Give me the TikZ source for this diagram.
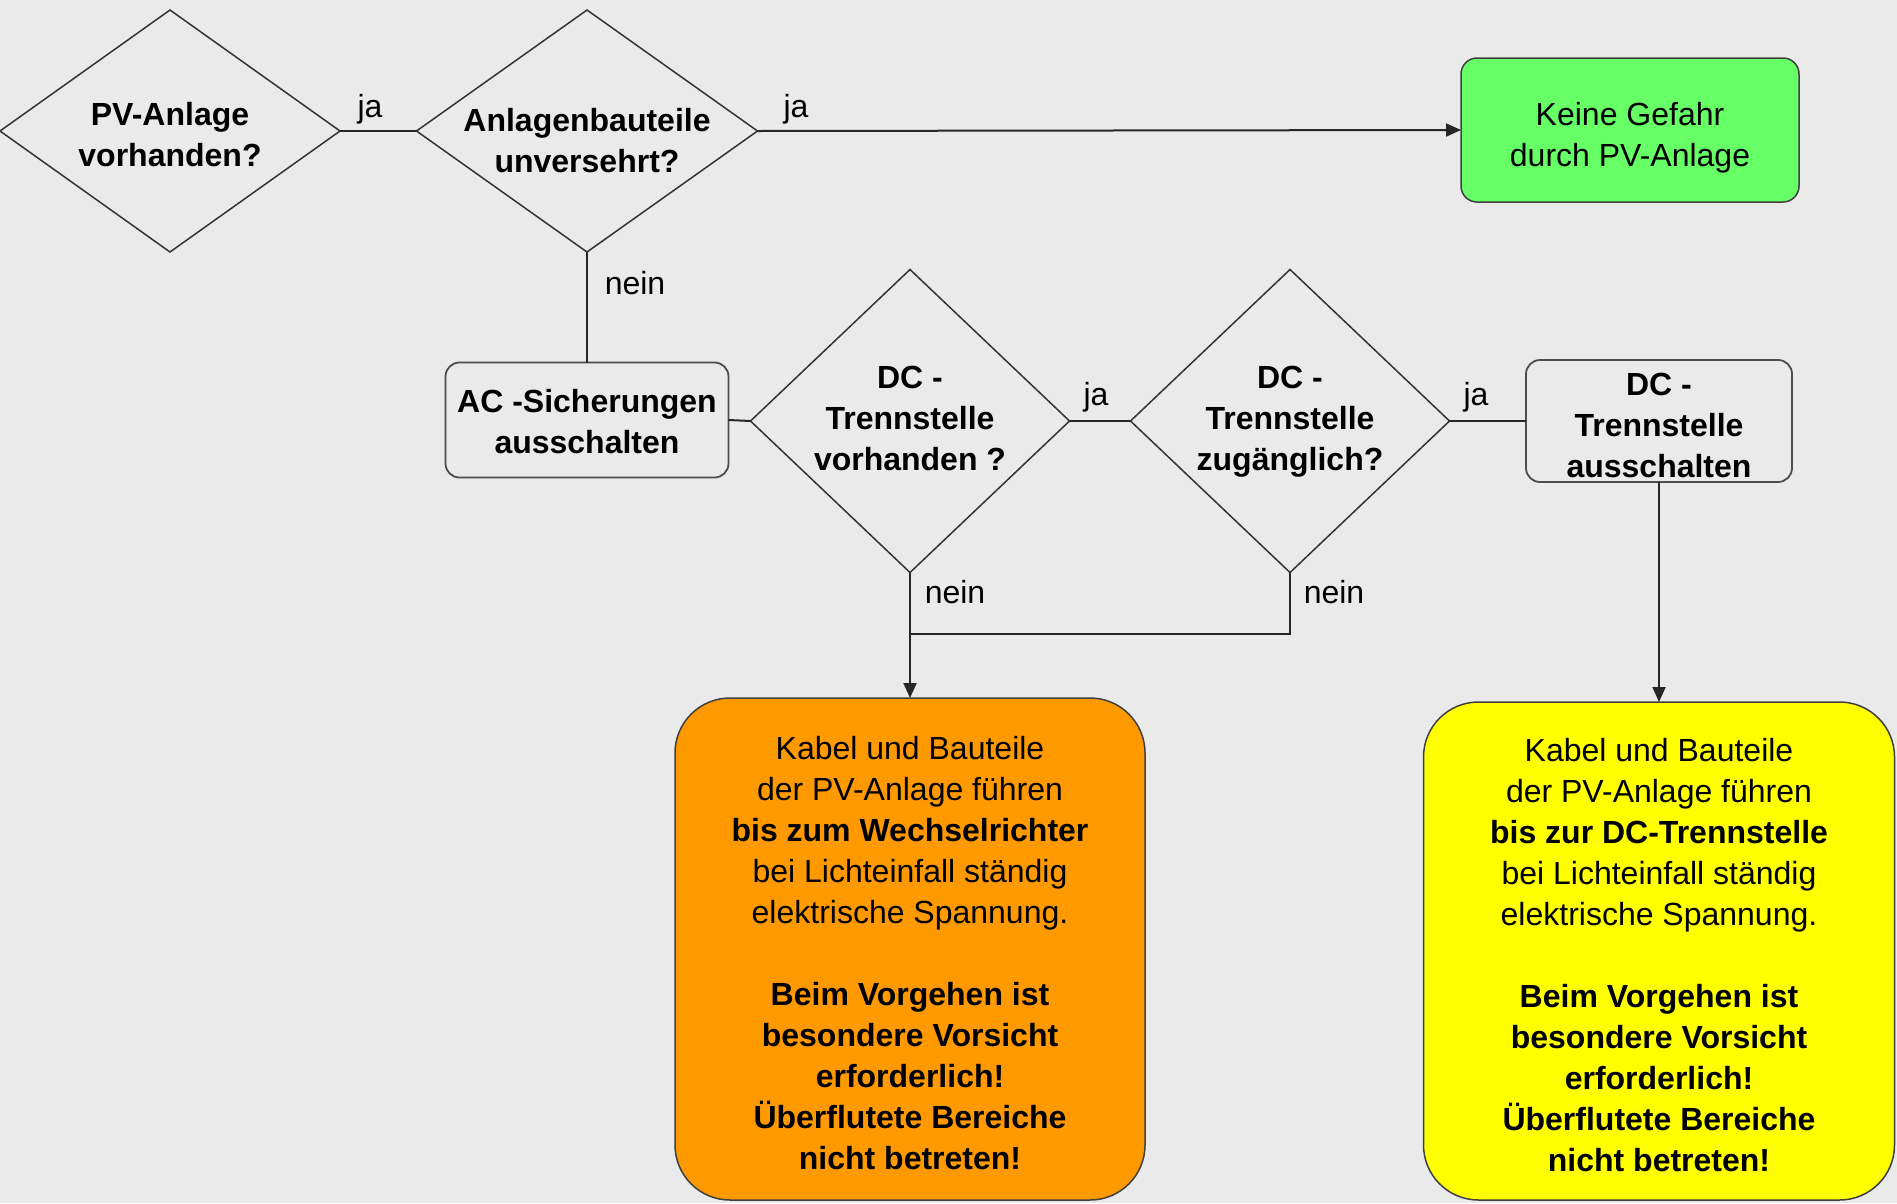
\documentclass[tikz,border=0pt]{standalone}
\usepackage{fontspec}
\setmainfont{Liberation Sans}
\usetikzlibrary{shapes.geometric,arrows.meta}
\definecolor{bg}{HTML}{EAEAEA}
\definecolor{okgreen}{HTML}{66FF66}
\definecolor{warnorange}{HTML}{FF9900}
\definecolor{warnyellow}{HTML}{FFFF00}
\definecolor{edgegray}{HTML}{333333}
\newcommand{\ztxt}[2][-12pt]{\smash{\raisebox{#1}{\makebox[0pt]{\begin{tabular}[c]{@{}c@{}}#2\end{tabular}}}}}
\begin{document}
\begin{tikzpicture}[x=1pt,y=-1pt,
  every node/.style={font=\fontsize{32}{41}\selectfont, outer sep=0pt},
  dia/.style={diamond, draw=edgegray, line width=1.5pt, inner sep=0pt, font=\fontsize{32}{41}\selectfont\bfseries},
  procbox/.style={rectangle, rounded corners=14pt, draw=black!70, line width=1.8pt, inner sep=0pt, font=\fontsize{32}{41}\selectfont\bfseries},
  endbox/.style={rectangle, draw=black!75, line width=1.5pt, inner sep=0pt},
  conn/.style={draw=black!85, line width=2pt},
  arr/.style={conn, -{Triangle[length=15pt,width=13pt]}},
  lbl/.style={inner sep=0pt}
]
\useasboundingbox (0,0) rectangle (1897,1203);
\fill[bg] (0,0) rectangle (1897,1203);

\node[dia, minimum width=340pt, minimum height=242pt] (d1) at (170,131) {\ztxt[-12.8pt]{PV-Anlage\\vorhanden?}};
\node[dia, minimum width=341pt, minimum height=242pt] (d2) at (587,131) {\ztxt[-19pt]{Anlagenbauteile\\unversehrt?}};
\node[endbox, rounded corners=16pt, fill=okgreen, minimum width=338pt, minimum height=144pt] (ok) at (1630,130) {\ztxt[-13.8pt]{Keine Gefahr\\durch PV-Anlage}};
\node[procbox, minimum width=283pt, minimum height=115pt] (ac) at (587,420) {\ztxt[-11.2pt]{AC -Sicherungen\\ausschalten}};
\node[dia, minimum width=319pt, minimum height=303pt] (d3) at (910,421) {\ztxt[-7pt]{DC -\\Trennstelle\\vorhanden ?}};
\node[dia, minimum width=319pt, minimum height=303pt] (d4) at (1290,421) {\ztxt[-7pt]{DC -\\Trennstelle\\zugänglich?}};
\node[procbox, minimum width=266pt, minimum height=122pt] (dc) at (1659,421) {\ztxt[-13.4pt]{DC -\\Trennstelle\\ausschalten}};

\node[endbox, rounded corners=55pt, fill=warnorange, minimum width=470pt, minimum height=502pt] (or) at (910,949) {\ztxt[-13.5pt]{Kabel und Bauteile\\der PV-Anlage führen\\\textbf{bis zum Wechselrichter}\\bei Lichteinfall ständig\\elektrische Spannung.\\ \\\textbf{Beim Vorgehen ist}\\\textbf{besondere Vorsicht}\\\textbf{erforderlich!}\\\textbf{Überflutete Bereiche}\\\textbf{nicht betreten!}}};
\node[endbox, rounded corners=55pt, fill=warnyellow, minimum width=471pt, minimum height=498pt] (ye) at (1659,951) {\ztxt[-14pt]{Kabel und Bauteile\\der PV-Anlage führen\\\textbf{bis zur DC-Trennstelle}\\bei Lichteinfall ständig\\elektrische Spannung.\\ \\\textbf{Beim Vorgehen ist}\\\textbf{besondere Vorsicht}\\\textbf{erforderlich!}\\\textbf{Überflutete Bereiche}\\\textbf{nicht betreten!}}};

\coordinate (j) at (910,634);

\draw[conn] (d1.east) -- (d2.west);
\draw[arr] (d2.east) -- (ok.west);
\draw[conn] (d2.south) -- (ac.north);
\draw[conn] (ac.east) -- (d3.west);
\draw[conn] (d3.east) -- (d4.west);
\draw[conn] (d4.east) -- (dc.west);
\draw[conn] (d3.south) -- (j);
\draw[conn] (d4.south) |- (j);
\draw[arr] (j) -- (or.north);
\draw[arr] (dc.south) -- (ye.north);

\node[lbl] (l1) at (370,109) {ja};
\node[lbl] (l2) at (796,109) {ja};
\node[lbl] (l3) at (635,283) {nein};
\node[lbl] (l4) at (1096,397) {ja};
\node[lbl] (l5) at (1476,397) {ja};
\node[lbl] (l6) at (955,592) {nein};
\node[lbl] (l7) at (1334,592) {nein};
\end{tikzpicture}
\end{document}
